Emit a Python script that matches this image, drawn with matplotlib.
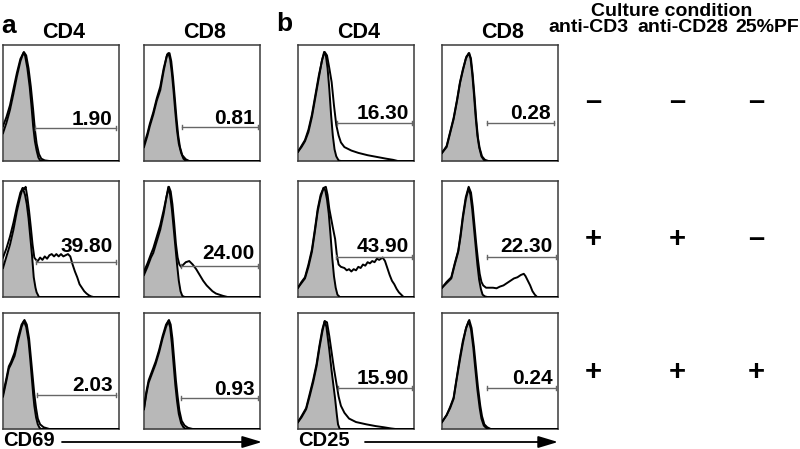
import matplotlib
matplotlib.use('Agg')
import matplotlib.pyplot as plt

plt.rcParams['font.family'] = ['Liberation Sans', 'DejaVu Sans']
plt.rcParams['font.weight'] = 'bold'

# ---------------- data ----------------
panel_letters = ['a', 'b']
markers = ['CD69', 'CD25']
cell_types = ['CD4', 'CD8', 'CD4', 'CD8']
conditions = ['anti-CD3', 'anti-CD28', '25%PF']
condition_title = 'Culture condition'
condition_signs = [['\u2013', '\u2013', '\u2013'],
                   ['+', '+', '\u2013'],
                   ['+', '+', '+']]

# percentage of positive cells, rows = culture conditions
pct_cd69_cd4 = ['1.90', '39.80', '2.03']
pct_cd69_cd8 = ['0.81', '24.00', '0.93']
pct_cd25_cd4 = ['16.30', '43.90', '15.90']
pct_cd25_cd8 = ['0.28', '22.30', '0.24']

# gate markers (start, end, level) in % of axis
gate_cd69_cd4 = [(28, 97, 28.5), (28.5, 97, 30), (29, 97, 29)]
gate_cd69_cd8 = [(33, 98, 29), (32, 98, 27), (32, 98, 27)]
gate_cd25_cd4 = [(34, 98, 33), (33, 98, 34.5), (34.5, 98.5, 35)]
gate_cd25_cd8 = [(38.5, 96.5, 33), (39, 98, 34.5), (39, 98, 35)]

# histogram outlines (fluorescence %, normalised count %)
# isotype / control (filled grey) and stained sample (open)
ctrl_cd69_cd4_1 = [(0,24),(3,33),(6,44),(9,58),(12,73),(15,86),(17.5,93),(19,91),(21,80),(23,64),(24.5,48),(26,30),(27.5,17),(29,9),(30.5,3),(32,0.5),(34,0),(100,0)]
samp_cd69_cd4_1 = [(0,30),(3,38),(6,48),(9,62),(12,76),(15,88),(18,94),(20,91),(22,80),(24,64),(26,44),(27.5,27),(29,15),(31,6),(33,2),(36,0.5),(40,0),(100,0)]
ctrl_cd69_cd4_2 = [(0,25),(3,35),(6,45),(9,58),(12,74),(15,87),(17,94),(19,88),(20.5,80),(22,68),(23.5,52),(25,36),(26.5,17),(28,8),(29,4),(31,0),(100,0)]
samp_cd69_cd4_2 = [(0,34),(3,42),(6,52),(9,64),(12,78),(15,90),(17,94),(18.5,93),(19.5,95),(21,86),(22.5,74),(24,60),(25.5,45),(27,34),(28.5,32),(30,31),(32,34),(34,32),(36,35),(38,33),(40,36),(42,37),(44,35),(46,37),(48,35),(50,37),(52,35),(54,36),(56,37),(58,35),(60,28),(62,22),(64,17),(66,11),(68,8),(70,5),(72,3),(74,1.5),(76,0.5),(78,0),(100,0)]
ctrl_cd69_cd4_3 = [(0,28),(3,42),(5,52),(7,56),(10,63),(13,76),(16,88),(18,93),(20,88),(22,76),(23.5,60),(24.5,48),(26,30),(27,20),(28.5,10),(30,4),(31.5,1),(33,0),(100,0)]
samp_cd69_cd4_3 = [(0,30),(3,44),(5,54),(7,58),(10,66),(13,79),(16,90),(18.5,94),(20.5,90),(22.5,78),(24,62),(25.5,46),(27,30),(28.5,18),(30,9),(32,4),(35,1.5),(40,0),(100,0)]

ctrl_cd69_cd8_1 = [(0,12),(3,22),(5,30),(8,40),(11,52),(14,61),(17,78),(19.5,90),(21,93),(22.5,88),(24,76),(25.5,60),(27,42),(28.5,26),(30,15),(32,7),(34,2),(36,0),(100,0)]
samp_cd69_cd8_1 = [(0,14),(3,24),(5,32),(8,42),(11,54),(14,64),(17,80),(20,92),(22,93),(23.5,86),(25,72),(26.5,55),(28,37),(29.5,22),(31,12),(33,5),(36,1.5),(39,0),(100,0)]
ctrl_cd69_cd8_2 = [(0,19),(3,26),(6,34),(8,38),(11,48),(14,58),(17,72),(19,84),(21,95),(22.5,88),(24,76),(25.5,60),(27,44),(28.5,28),(30,14),(31.5,5),(33,1),(35,0),(100,0)]
samp_cd69_cd8_2 = [(0,22),(3,29),(6,37),(8,42),(11,52),(14,62),(17,75),(19.5,87),(21.5,95),(23,91),(24.5,80),(26,64),(27.5,46),(29,34),(30.5,28),(32,26),(34,28),(36,30),(39,31),(42,28),(45,24),(48,19),(51,14),(54,10),(56,8),(59,5),(62,3),(65,2),(68,1),(72,0),(100,0)]
ctrl_cd69_cd8_3 = [(0,17),(2,30),(4,40),(7,48),(10,56),(13,66),(16,78),(19,88),(21,93),(22.5,88),(24,74),(25.5,56),(27,38),(28.5,24),(30,13),(32,5),(34,1.5),(36,0),(100,0)]
samp_cd69_cd8_3 = [(0,18),(2,32),(4,42),(7,50),(10,58),(13,68),(16,80),(19,90),(21.5,94),(23,90),(24.5,78),(26,60),(27.5,42),(29,28),(30.5,16),(32.5,7),(35,3),(38,1),(42,0),(100,0)]

ctrl_cd25_cd4_1 = [(0,8),(3,12),(6,17),(9,25),(12,38),(15,55),(18,72),(20.5,86),(22.5,94),(24,91),(25.5,80),(27,62),(28.5,40),(30,22),(31.5,10),(33,4),(35,0.5),(37,0),(100,0)]
samp_cd25_cd4_1 = [(0,8),(3,13),(6,18),(9,27),(12,40),(15,57),(18,74),(21,88),(23,94),(25,91),(27,80),(29,68),(31,48),(33,31),(35,22),(37,16),(40,12),(46,9),(52,7),(60,5),(68,3.5),(76,2),(82,1),(86,0),(100,0)]
ctrl_cd25_cd4_2 = [(0,8),(3,12),(6,16),(9,26),(12,39),(14.5,56),(17,74),(19.5,86),(22,94),(23.5,92),(25,84),(26.5,72),(28,54),(29.5,34),(31,18),(32.5,8),(34,2),(36,0),(100,0)]
samp_cd25_cd4_2 = [(0,8),(3,13),(6,17),(9,28),(12,41),(14.5,58),(17,76),(19.5,88),(22,94),(24,95),(25.5,88),(27,76),(28.5,68),(30,60),(32,50),(33.5,36),(35,28),(37,26),(40,25),(42,23),(44,24),(46,22),(48,24),(50,23),(52,26),(54,25),(56,28),(58,27),(60,30),(62,29),(64,31),(66,30),(68,33),(70,32),(73,34),(75,31),(77,25),(79,19),(81,14),(83,11),(85,7),(87,4),(89,2),(91,0),(100,0)]
ctrl_cd25_cd4_3 = [(0,6),(3,10),(7,17),(10,28),(13,40),(16,54),(18.5,70),(21,84),(23,93),(24.5,88),(27,68),(29,50),(31,34),(32,26),(33.5,12),(34.5,4),(36,0),(100,0)]
samp_cd25_cd4_3 = [(0,6),(3,11),(7,18),(10,30),(13,42),(16,56),(18.5,72),(21,86),(23,93),(25,92),(27,80),(29,66),(31,52),(33,40),(35,28),(37,20),(40,14),(44,9),(50,6),(59,4),(67,2.5),(74,1.5),(80,0.5),(84,0),(100,0)]

ctrl_cd25_cd8_1 = [(0,7),(4,12),(7,24),(10,36),(13,52),(15.5,67),(18,78),(20.5,88),(23,93),(24.5,89),(26,76),(27.5,58),(29,38),(30.5,22),(32,12),(34,4),(36,1),(38,0),(100,0)]
samp_cd25_cd8_1 = [(0,7),(4,13),(7,25),(10,37),(13,53),(15.5,68),(18,79),(21,90),(23.5,93),(25,88),(26.5,74),(28,56),(29.5,36),(31,20),(32.5,11),(34.5,4),(37,1),(40,0),(100,0)]
ctrl_cd25_cd8_2 = [(0,8),(4,12),(8,16),(11,28),(14,39),(16,52),(18,68),(20.5,84),(23,94),(24.5,88),(26,76),(27.5,60),(29,44),(30.5,28),(32,15),(33.5,7),(35,2),(37,0.5),(39,0),(100,0)]
samp_cd25_cd8_2 = [(0,8),(4,13),(8,17),(11,29),(14,40),(16,54),(18,70),(20.5,86),(23,95),(25,90),(26.5,78),(28,62),(29.5,46),(31,32),(32.5,20),(34,13),(35.5,10),(38,8),(41,8),(44,8),(47,7.5),(50,9),(53,10),(56,12),(59,14),(62,16),(65,17),(68,19),(70.5,20),(72,18),(74,14),(76,10),(78,5),(80,2),(82,0),(100,0)]
ctrl_cd25_cd8_3 = [(0,6),(4,12),(7,18),(10,26),(12.5,42),(15.5,60),(18,74),(20.5,86),(23,93),(25,86),(27,70),(28.5,54),(30.5,34),(32.5,18),(34,9),(36,3),(38,1),(40,0),(100,0)]
samp_cd25_cd8_3 = [(0,6),(4,12),(7,19),(10,27),(12.5,43),(15.5,62),(18,76),(21,88),(23.5,94),(25.5,87),(27.5,71),(29,56),(31,36),(33,20),(34.5,11),(36.5,4),(39,1.5),(42,0),(100,0)]

columns = [
    dict(ctrl=[ctrl_cd69_cd4_1, ctrl_cd69_cd4_2, ctrl_cd69_cd4_3],
         samp=[samp_cd69_cd4_1, samp_cd69_cd4_2, samp_cd69_cd4_3],
         pct=pct_cd69_cd4, gate=gate_cd69_cd4),
    dict(ctrl=[ctrl_cd69_cd8_1, ctrl_cd69_cd8_2, ctrl_cd69_cd8_3],
         samp=[samp_cd69_cd8_1, samp_cd69_cd8_2, samp_cd69_cd8_3],
         pct=pct_cd69_cd8, gate=gate_cd69_cd8),
    dict(ctrl=[ctrl_cd25_cd4_1, ctrl_cd25_cd4_2, ctrl_cd25_cd4_3],
         samp=[samp_cd25_cd4_1, samp_cd25_cd4_2, samp_cd25_cd4_3],
         pct=pct_cd25_cd4, gate=gate_cd25_cd4),
    dict(ctrl=[ctrl_cd25_cd8_1, ctrl_cd25_cd8_2, ctrl_cd25_cd8_3],
         samp=[samp_cd25_cd8_1, samp_cd25_cd8_2, samp_cd25_cd8_3],
         pct=pct_cd25_cd8, gate=gate_cd25_cd8),
]

# ---------------- layout (pixels) ----------------
W, H = 800, 449
col_left = [3, 144, 298, 442]
row_top = [45, 181, 313]
pw, ph = 116, 116
label_lift = [[3, 10, 4], [3, 7, 3], [4, 5, 4], [4, 5, 4]]

fig = plt.figure(figsize=(W / 100, H / 100), dpi=100)
fig.patch.set_facecolor('white')

def ax_at(x, y, w, h):
    return fig.add_axes([x / W, 1 - (y + h) / H, w / W, h / H])

for j, col in enumerate(columns):
    for i in range(3):
        ax = ax_at(col_left[j], row_top[i], pw, ph)
        cx = [p[0] for p in col['ctrl'][i]]
        cy = [p[1] for p in col['ctrl'][i]]
        sx = [p[0] for p in col['samp'][i]]
        sy = [p[1] for p in col['samp'][i]]
        ax.fill_between(cx, cy, 0, color='#b8b8b8', lw=0, zorder=1)
        ax.plot(cx, cy, color='black', lw=1.4, zorder=3)
        ax.plot(sx, sy, color='black', lw=1.4, zorder=3)
        g0, g1, gy = col['gate'][i]
        ax.plot([g0, g1], [gy, gy], color='#666666', lw=1.0, zorder=4)
        for gx in (g0, g1):
            ax.plot([gx, gx], [gy - 1.8, gy + 1.8], color='#666666', lw=1.0, zorder=4)
        ax.annotate(col['pct'][i], xy=(g1, gy), xytext=(-3, label_lift[j][i]),
                    textcoords='offset pixels', ha='right', va='baseline',
                    fontsize=15, fontweight='bold', color='black', zorder=5)
        ax.set_xlim(0, 100)
        ax.set_ylim(0, 100)
        ax.set_xticks([])
        ax.set_yticks([])
        for s in ax.spines.values():
            s.set_color('#3a3a3a')
            s.set_linewidth(1.1)

# overlay for labels
ov = fig.add_axes([0, 0, 1, 1])
ov.set_xlim(0, W)
ov.set_ylim(H, 0)
ov.axis('off')
ov.patch.set_alpha(0)

ov.text(9, 26, panel_letters[0], fontsize=19, fontweight='bold', ha='center', va='center')
ov.text(284, 24, panel_letters[1], fontsize=19, fontweight='bold', ha='center', va='center')
for j, name in enumerate(cell_types):
    ov.text(col_left[j] + pw / 2 + 3, 33, name, fontsize=15.5, fontweight='bold',
            ha='center', va='center')

ov.text(672, 11, condition_title, fontsize=14, fontweight='bold', ha='center', va='center')
cond_x = [588, 683, 767]
for k, c in enumerate(conditions):
    ov.text(cond_x[k], 27, c, fontsize=14, fontweight='bold', ha='center', va='center')

sign_x = [593, 677, 756]
sign_y = [99, 236, 369]
for i in range(3):
    for k in range(3):
        ov.text(sign_x[k], sign_y[i], condition_signs[i][k], fontsize=21,
                fontweight='bold', ha='center', va='center_baseline')

# axis labels with arrows
ov.text(3, 440, markers[0], fontsize=14.5, fontweight='bold', ha='left', va='center')
ov.annotate('', xy=(262, 442), xytext=(62, 442),
            arrowprops=dict(arrowstyle='-|>,head_length=0.6,head_width=0.18',
                            mutation_scale=20, lw=1.3, color='black',
                            shrinkA=0, shrinkB=0))
ov.text(298, 440, markers[1], fontsize=14.5, fontweight='bold', ha='left', va='center')
ov.annotate('', xy=(558, 442), xytext=(365, 442),
            arrowprops=dict(arrowstyle='-|>,head_length=0.6,head_width=0.18',
                            mutation_scale=20, lw=1.3, color='black',
                            shrinkA=0, shrinkB=0))

fig.savefig('out.png', dpi=100, facecolor='white')
